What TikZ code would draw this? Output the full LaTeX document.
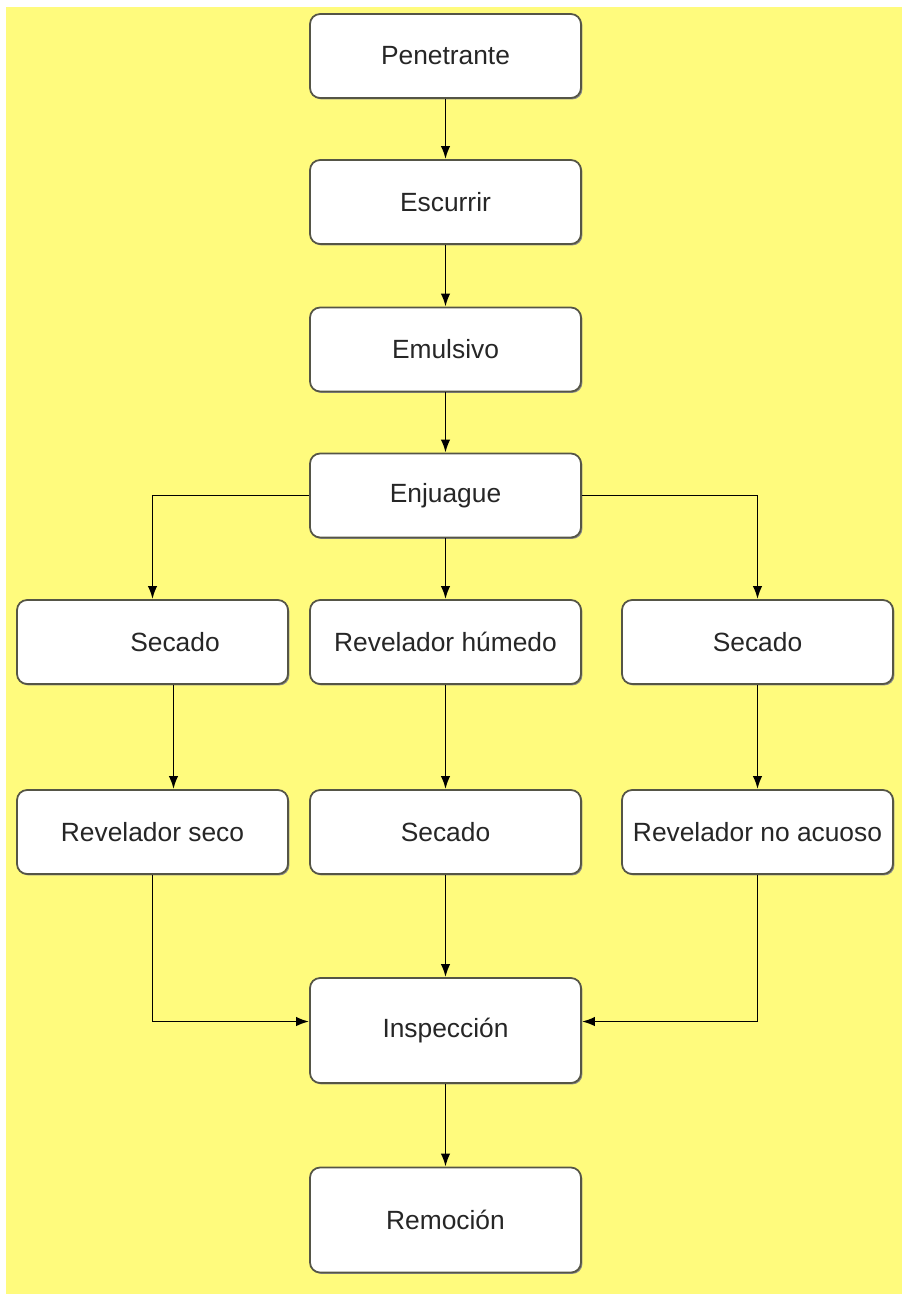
\documentclass[tikz,border=0pt]{standalone}
\usepackage{fontspec}
\setmainfont{Liberation Sans}
\usetikzlibrary{arrows.meta,shadows}
\definecolor{padyellow}{RGB}{255,251,125}
\definecolor{boxline}{RGB}{85,85,70}
\tikzset{
  stepbox/.style={draw=boxline,line width=1pt,fill=white,rounded corners=0.2cm,
    minimum width=5.42cm,minimum height=1.68cm,inner sep=0pt,text=black!85,
    font=\fontsize{15}{18}\selectfont,
    general shadow={shadow xshift=0.8pt,shadow yshift=-0.8pt,fill=black!45}},
  tallbox/.style={stepbox,minimum height=2.1cm},
  arr/.style={line width=1.1pt,-{Latex[length=2.6mm,width=1.9mm]}}
}
\begin{document}
\begin{tikzpicture}[x=0.02cm,y=-0.02cm]
  \useasboundingbox (0,0) rectangle (902,1294);
  \fill[white] (0,0) rectangle (902,1294);
  \fill[padyellow] (6,7) rectangle (902,1294);
  % main line of steps
  \node[stepbox] (pen) at (445.5,56)    {Penetrante};
  \node[stepbox] (esc) at (445.5,202)   {Escurrir};
  \node[stepbox] (emu) at (445.5,349.5) {Emulsivo};
  \node[stepbox] (enj) at (445.5,495.5) {Enjuague};
  % three branches
  \node[stepbox] (sec1) at (152.5,642) {\hspace*{0.9cm}Secado};
  \node[stepbox] (rhu)  at (445.5,642) {Revelador húmedo};
  \node[stepbox] (sec2) at (757.5,642) {Secado};
  \node[stepbox] (rse)  at (152.5,832) {Revelador seco};
  \node[stepbox] (sec3) at (445.5,832) {Secado};
  \node[stepbox] (rna)  at (757.5,832) {Revelador no acuoso};
  \node[tallbox] (ins) at (445.5,1030.5) {Inspección};
  \node[tallbox] (rem) at (445.5,1220)   {Remoción};
  % connectors
  \draw[arr] (pen) -- (esc);
  \draw[arr] (esc) -- (emu);
  \draw[arr] (emu) -- (enj);
  \draw[arr] (enj.west) -| (sec1.north);
  \draw[arr] (enj) -- (rhu);
  \draw[arr] (enj.east) -| (sec2.north);
  \draw[arr] ([xshift=0.42cm]sec1.south) -- ([xshift=0.42cm]rse.north);
  \draw[arr] (rhu) -- (sec3);
  \draw[arr] (sec2) -- (rna);
  \draw[arr] (rse.south) |- ([yshift=0.18cm]ins.west);
  \draw[arr] (sec3) -- (ins);
  \draw[arr] (rna.south) |- ([yshift=0.18cm]ins.east);
  \draw[arr] (ins) -- (rem);
\end{tikzpicture}
\end{document}
